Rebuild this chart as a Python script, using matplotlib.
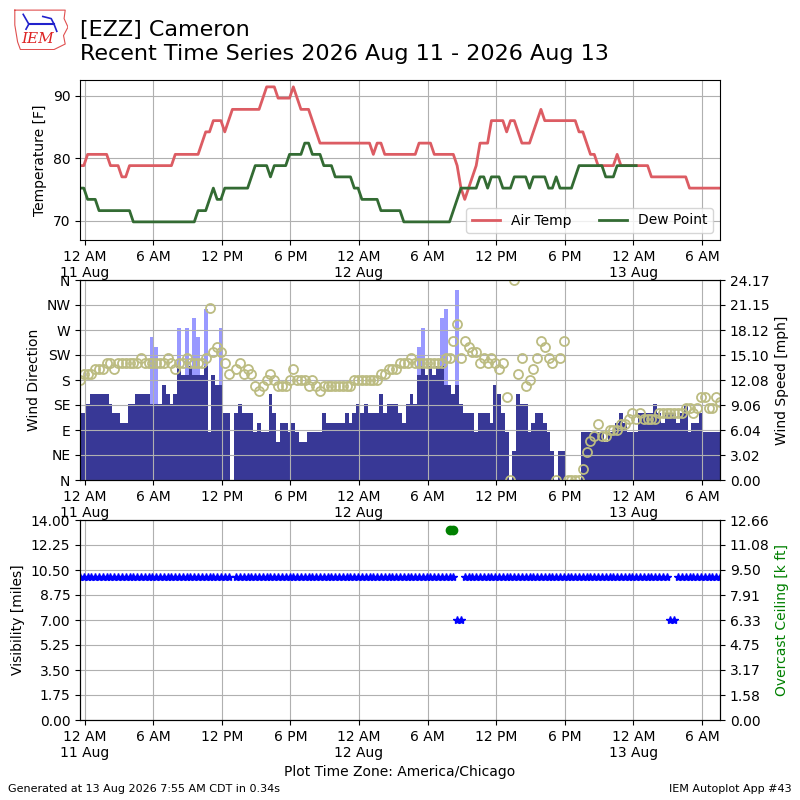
import datetime

import numpy as np
import matplotlib
matplotlib.use("Agg")
import matplotlib.pyplot as plt
import matplotlib.dates as mdates
from matplotlib.ticker import FuncFormatter

nan = np.nan

# observation times: every 20 minutes, local time (America/Chicago)
start = datetime.datetime(2026, 8, 10, 23, 35)
valid = [start + datetime.timedelta(minutes=20 * k) for k in range(169)]

# air temperature [F]
tmpf = [
    78.8, 78.8, 80.6, 80.6, 80.6, 80.6, 80.6, 80.6, 78.8, 78.8, 78.8, 77.0,
    77.0, 78.8, 78.8, 78.8, 78.8, 78.8, 78.8, 78.8, 78.8, 78.8, 78.8, 78.8,
    78.8, 80.6, 80.6, 80.6, 80.6, 80.6, 80.6, 80.6, 82.4, 84.2, 84.2, 86.0,
    86.0, 86.0, 84.2, 86.0, 87.8, 87.8, 87.8, 87.8, 87.8, 87.8, 87.8, 87.8,
    89.6, 91.4, 91.4, 91.4, 89.6, 89.6, 89.6, 89.6, 91.4, 89.6, 87.8, 87.8,
    87.8, 86.0, 84.2, 82.4, 82.4, 82.4, 82.4, 82.4, 82.4, 82.4, 82.4, 82.4,
    82.4, 82.4, 82.4, 82.4, 82.4, 80.6, 82.4, 82.4, 80.6, 80.6, 80.6, 80.6,
    80.6, 80.6, 80.6, 80.6, 80.6, 82.4, 82.4, 82.4, 82.4, 80.6, 80.6, 80.6,
    80.6, 80.6, 80.6, 78.8, 75.2, 73.4, 75.2, 77.0, 78.8, 82.4, 82.4, 82.4,
    86.0, 86.0, 86.0, 86.0, 84.2, 86.0, 86.0, 84.2, 82.4, 82.4, 82.4, 84.2,
    86.0, 87.8, 86.0, 86.0, 86.0, 86.0, 86.0, 86.0, 86.0, 86.0, 86.0, 84.2,
    84.2, 82.4, 80.6, 80.6, 78.8, 78.8, 78.8, 78.8, 78.8, 80.6, 78.8, 78.8,
    78.8, 78.8, 78.8, 78.8, 78.8, 78.8, 77.0, 77.0, 77.0, 77.0, 77.0, 77.0,
    77.0, 77.0, 77.0, 77.0, 75.2, 75.2, 75.2, 75.2, 75.2, 75.2, 75.2, 75.2,
    75.2,
]

# dew point [F]
dwpf = [
    75.2, 75.2, 73.4, 73.4, 73.4, 71.6, 71.6, 71.6, 71.6, 71.6, 71.6, 71.6,
    71.6, 71.6, 69.8, 69.8, 69.8, 69.8, 69.8, 69.8, 69.8, 69.8, 69.8, 69.8,
    69.8, 69.8, 69.8, 69.8, 69.8, 69.8, 69.8, 71.6, 71.6, 71.6, 73.4, 75.2,
    73.4, 73.4, 75.2, 75.2, 75.2, 75.2, 75.2, 75.2, 75.2, 77.0, 78.8, 78.8,
    78.8, 78.8, 77.0, 78.8, 78.8, 78.8, 78.8, 80.6, 80.6, 80.6, 80.6, 82.4,
    82.4, 80.6, 80.6, 80.6, 78.8, 78.8, 78.8, 77.0, 77.0, 77.0, 77.0, 77.0,
    75.2, 75.2, 73.4, 73.4, 73.4, 73.4, 73.4, 71.6, 71.6, 71.6, 71.6, 71.6,
    71.6, 69.8, 69.8, 69.8, 69.8, 69.8, 69.8, 69.8, 69.8, 69.8, 69.8, 69.8,
    69.8, 69.8, 71.6, 73.4, 75.2, 75.2, 75.2, 75.2, 75.2, 77.0, 77.0, 75.2,
    77.0, 77.0, 77.0, 75.2, 75.2, 75.2, 77.0, 77.0, 77.0, 77.0, 75.2, 77.0,
    77.0, 77.0, 77.0, 75.2, 75.2, 77.0, 75.2, 75.2, 75.2, 75.2, 77.0, 78.8,
    78.8, 78.8, 78.8, 78.8, 78.8, 78.8, 77.0, 77.0, 77.0, 78.8, 78.8, 78.8,
    78.8, 78.8, 78.8, nan, nan, nan, nan, nan, nan, nan, nan, nan,
    nan, nan, nan, nan, nan, nan, nan, nan, nan, nan, nan, nan,
    nan,
]

# wind speed [knots]
sknt = [
    7, 7, 8, 9, 9, 9, 9, 9, 8, 7, 7, 6,
    6, 8, 8, 9, 9, 9, 9, 8, 8, 8, 10, 9,
    8, 9, 12, 11, 11, 12, 11, 11, 11, 12, 5, 11,
    10, 10, 7, 7, nan, 7, 8, 7, 7, 7, 5, 6,
    5, 5, 9, 7, 4, 6, 6, 5, 6, 5, 4, 4,
    5, 5, 5, 5, 7, 6, 6, 6, 6, 6, 7, 6,
    7, 8, 7, 8, 7, 7, 7, 9, 7, 8, 8, 8,
    7, 6, 8, 9, 8, 11, 12, 11, 12, 11, 12, 12,
    10, 10, 9, 10, 8, 7, 7, 7, 5, 7, 7, 7,
    6, 10, 9, 7, 5, 0, 3, 9, 8, 8, 5, 6,
    7, 7, 6, 5, 3, 0, 3, 3, 0, 0, 0, 0,
    5, 5, 5, 5, 5, 5, 4, 5, 5, 6, 7, 6,
    5, 5, 5, 7, 7, 7, 7, 8, 7, 6, 7, 7,
    7, 6, 7, 8, 5, 6, 6, 7, 5, 5, 5, 5,
    5,
]

# wind gust [knots]
gust = [
    nan, nan, nan, nan, nan, nan, nan, nan, nan, nan, nan, nan,
    nan, nan, nan, nan, nan, nan, nan, 15, 14, nan, nan, nan,
    nan, nan, 16, nan, 16, nan, 17, 15, nan, 18, nan, nan,
    nan, 16, nan, nan, nan, nan, nan, nan, nan, nan, nan, nan,
    nan, nan, nan, nan, nan, nan, nan, nan, nan, nan, nan, nan,
    nan, nan, nan, nan, nan, nan, nan, nan, nan, nan, nan, nan,
    nan, nan, nan, nan, nan, nan, nan, nan, nan, nan, nan, nan,
    nan, nan, nan, nan, nan, 14, 16, nan, nan, nan, nan, 17,
    18, nan, nan, 20, nan, nan, nan, nan, nan, nan, nan, nan,
    nan, nan, nan, nan, nan, nan, nan, nan, nan, nan, nan, nan,
    nan, nan, nan, nan, nan, nan, nan, nan, nan, nan, nan, nan,
    nan, nan, nan, nan, nan, nan, nan, nan, nan, nan, nan, nan,
    nan, nan, nan, nan, nan, nan, nan, nan, nan, nan, nan, nan,
    nan, nan, nan, nan, nan, nan, nan, nan, nan, nan, nan, nan,
    nan,
]

# wind direction [deg]
drct = [
    180, 190, 190, 190, 200, 200, 200, 210, 210, 200, 210, 210,
    210, 210, 210, 210, 220, 210, 210, 210, 210, 210, 210, 220,
    210, 200, 210, 210, 220, 210, 210, 210, 210, 220, 310, 230,
    240, 230, 210, 190, nan, 200, 210, 190, 200, 190, 170, 160,
    170, 180, 190, 180, 170, 170, 170, 180, 200, 180, 180, 180,
    170, 180, 170, 160, 170, 170, 170, 170, 170, 170, 170, 170,
    180, 180, 180, 180, 180, 180, 180, 190, 190, 200, 200, 200,
    210, 210, 210, 220, 210, 210, 210, 210, 210, 210, 210, 210,
    220, 220, 250, 280, 220, 250, 240, 230, 230, 210, 220, 210,
    220, 210, 200, 210, 150, 0, 360, 190, 220, 170, 180, 200,
    220, 250, 240, 220, 210, 0, 220, 250, 0, 0, 0, 0,
    20, 50, 70, 80, 100, 80, 80, 90, 90, 90, 100, 100,
    110, 120, 110, 120, 110, 110, 110, 110, 120, 120, 120, 120,
    120, 120, 120, 130, 130, 120, 130, 150, 150, 130, 130, 150,
    140,
]

# visibility [miles]
vsby = [
    10, 10, 10, 10, 10, 10, 10, 10, 10, 10, 10, 10,
    10, 10, 10, 10, 10, 10, 10, 10, 10, 10, 10, 10,
    10, 10, 10, 10, 10, 10, 10, 10, 10, 10, 10, 10,
    10, 10, 10, 10, nan, 10, 10, 10, 10, 10, 10, 10,
    10, 10, 10, 10, 10, 10, 10, 10, 10, 10, 10, 10,
    10, 10, 10, 10, 10, 10, 10, 10, 10, 10, 10, 10,
    10, 10, 10, 10, 10, 10, 10, 10, 10, 10, 10, 10,
    10, 10, 10, 10, 10, 10, 10, 10, 10, 10, 10, 10,
    10, 10, 10, 7, 7, 10, 10, 10, 10, 10, 10, 10,
    10, 10, 10, 10, 10, 10, 10, 10, 10, 10, 10, 10,
    10, 10, 10, 10, 10, 10, 10, 10, 10, 10, 10, 10,
    10, 10, 10, 10, 10, 10, 10, 10, 10, 10, 10, 10,
    10, 10, 10, 10, 10, 10, 10, 10, 10, 10, 10, 7,
    7, 10, 10, 10, 10, 10, 10, 10, 10, 10, 10, 10,
    10,
]

# overcast ceiling [k ft], only two reports
ceil = [nan] * 169
ceil_obs = {97: 12.0, 98: 12.0}
for k, v in ceil_obs.items():
    ceil[k] = v

dir_ticks = [0, 45, 90, 135, 180, 225, 270, 315, 360]
dir_labels = ["N", "NE", "E", "SE", "S", "SW", "W", "NW", "N"]
spd_ticks = [0, 3.02, 6.04, 9.06, 12.08, 15.10, 18.12, 21.15, 24.17]
spd_labels = ["0.00", "3.02", "6.04", "9.06", "12.08", "15.10", "18.12", "21.15", "24.17"]
vis_ticks = [0, 1.75, 3.5, 5.25, 7.0, 8.75, 10.5, 12.25, 14.0]
vis_labels = ["0.00", "1.75", "3.50", "5.25", "7.00", "8.75", "10.50", "12.25", "14.00"]
ceil_ticks = [0, 1.58, 3.17, 4.75, 6.33, 7.91, 9.50, 11.08, 12.66]
ceil_labels = ["0.00", "1.58", "3.17", "4.75", "6.33", "7.91", "9.50", "11.08", "12.66"]

KT2MPH = 1.15078
sped = np.array(sknt, dtype=float) * KT2MPH
gust_mph = np.array(gust, dtype=float) * KT2MPH


def fmt_time(x, pos=None):
    d = mdates.num2date(x)
    h = d.hour
    if h == 0:
        return "12 AM\n" + d.strftime("%-d %b")
    if h == 12:
        return "12 PM"
    return "%d %s" % (h % 12, "AM" if h < 12 else "PM")


def setup_xaxis(ax):
    ax.xaxis.set_major_locator(mdates.HourLocator(byhour=[0, 6, 12, 18]))
    ax.xaxis.set_major_formatter(FuncFormatter(fmt_time))
    ax.set_xlim(valid[0], valid[-1])


fig = plt.figure(figsize=(8, 8), dpi=100)

fig.text(0.1, 0.975, "[EZZ] Cameron\nRecent Time Series 2026 Aug 11 - 2026 Aug 13",
         fontsize=16, va="top", ha="left", linespacing=1.25)

# little IEM logo
lax = fig.add_axes([0.015, 0.937, 0.07, 0.053])
lax.set_xlim(0, 1)
lax.set_ylim(0, 1)
lax.axis("off")
lax.plot([0.05, 0.95, 0.93, 1.0, 0.92, 0.95, 0.75, 0.15, 0.1, 0.05, 0.05],
         [0.95, 0.95, 0.75, 0.55, 0.35, 0.15, 0.02, 0.02, 0.2, 0.6, 0.95],
         color="#e05050", lw=0.8)
lax.text(0.45, 0.1, "IEM", color="#dd2222", fontsize=11, family="serif",
         style="italic", ha="center", va="bottom")
lax.plot([0.3, 0.75], [0.62, 0.62], color="#2222cc", lw=1.5)
lax.plot([0.2, 0.3, 0.25], [0.85, 0.62, 0.5], color="#2222cc", lw=1.2)
lax.plot([0.55, 0.7, 0.75, 0.8], [0.8, 0.75, 0.62, 0.45], color="#2222cc", lw=1.2)

# --- temperature panel
ax1 = fig.add_axes([0.1, 0.7, 0.8, 0.2])
ax1.plot(valid, tmpf, color="#dc5c63", lw=2, label="Air Temp")
ax1.plot(valid, dwpf, color="#336b33", lw=2, label="Dew Point")
ax1.set_ylim(66.9, 92.5)
ax1.set_yticks([70, 80, 90])
ax1.set_ylabel("Temperature [F]")
ax1.grid(True)
ax1.legend(loc="lower right", ncol=2)
setup_xaxis(ax1)

# --- wind panel: bars (speed) below, direction circles on a twin above
ax2 = fig.add_axes([0.1, 0.4, 0.8, 0.25])
bw = 20.0 / 1440.0
ax2.bar(valid, gust_mph, width=bw, color="#9999ff")
ax2.bar(valid, sped, width=bw, color="#383896")
ax2.set_ylim(0, 24.17)
ax2.set_axisbelow(False)
ax2.grid(True)
setup_xaxis(ax2)
ax2d = ax2.twinx()
ax2d.plot(valid, drct, "o", mfc="none", mec="#bcbc82", ms=6.5, mew=1.3)
ax2d.set_ylim(0, 360)
ax2d.set_yticks(dir_ticks)
ax2d.set_yticklabels(dir_labels)
ax2.set_yticks(spd_ticks)
ax2.set_yticklabels(spd_labels)
ax2.yaxis.tick_right()
ax2.yaxis.set_label_position("right")
ax2.set_ylabel("Wind Speed [mph]")
ax2d.yaxis.tick_left()
ax2d.yaxis.set_label_position("left")
ax2d.set_ylabel("Wind Direction")
setup_xaxis(ax2d)

# --- visibility / ceiling panel
ax3 = fig.add_axes([0.1, 0.1, 0.8, 0.25])
ax3.plot(valid, vsby, "*", color="b", ms=6)
ax3.set_ylim(0, 14)
ax3.set_yticks(vis_ticks)
ax3.set_yticklabels(vis_labels)
ax3.set_ylabel("Visibility [miles]")
ax3.grid(True)
setup_xaxis(ax3)
ax3.set_xlabel("Plot Time Zone: America/Chicago")
ax3c = ax3.twinx()
ax3c.plot(valid, ceil, "o", color="g", ms=6)
ax3c.set_ylim(0, 12.66)
ax3c.set_yticks(ceil_ticks)
ax3c.set_yticklabels(ceil_labels)
ax3c.set_ylabel("Overcast Ceiling [k ft]", color="g")
setup_xaxis(ax3c)

fig.text(0.01, 0.01, "Generated at 13 Aug 2026 7:55 AM CDT in 0.34s", fontsize=8)
fig.text(0.99, 0.01, "IEM Autoplot App #43", fontsize=8, ha="right")

fig.savefig("out.png", dpi=100)
